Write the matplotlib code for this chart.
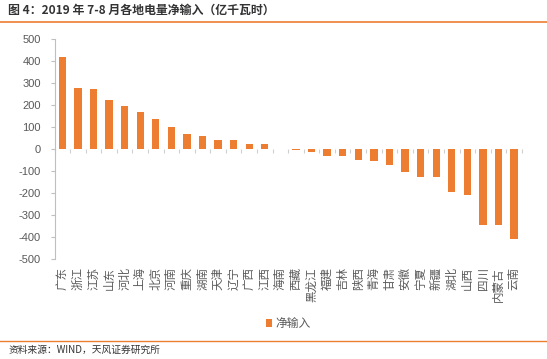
import matplotlib
matplotlib.use('Agg')
import matplotlib.pyplot as plt
import numpy as np

plt.rcParams['font.family'] = ['Noto Sans CJK SC', 'DejaVu Sans']
plt.rcParams['axes.unicode_minus'] = False

provinces = ['广东', '浙江', '江苏', '山东', '河北', '上海', '北京', '河南', '重庆', '湖南',
             '天津', '辽宁', '广西', '江西', '海南', '西藏', '黑龙江', '福建', '吉林', '陕西',
             '青海', '甘肃', '安徽', '宁夏', '新疆', '湖北', '山西', '四川', '内蒙古', '云南']
net_input = [421, 279, 274, 224, 197, 170, 138, 101, 70, 60,
             42, 42, 24, 24, 3, -3, -10, -30, -30, -48,
             -53, -71, -103, -126, -126, -194, -208, -344, -344, -408]
yticks = list(range(-500, 501, 100))

orange = '#ED7D31'
gray = '#595959'

fig = plt.figure(figsize=(5.47, 3.59), dpi=100)
ax = fig.add_axes([0.0997, 0.2777, 0.8543, 0.6128])

x = np.arange(len(provinces))
ax.bar(x, net_input, width=0.47, color=orange, label='净输入', zorder=3)

ax.set_xlim(-0.5, len(provinces) - 0.5)
ax.set_ylim(-500, 500)
ax.set_yticks(yticks)
ax.set_yticklabels([str(v) for v in yticks], family=['Liberation Sans', 'DejaVu Sans'],
                   fontsize=8, color=gray)
ax.tick_params(axis='y', length=3, width=0.8, color='#bfbfbf', pad=7)

# x axis sits at zero with ticks between categories
ax.spines['bottom'].set_position(('data', 0))
ax.spines['bottom'].set_color('none')
ax.set_xticks(np.arange(len(provinces) + 1) - 0.5)
ax.set_xticklabels([])
ax.tick_params(axis='x', length=3, width=0.8, color='#d0d0d0')
for s in ['top', 'right']:
    ax.spines[s].set_visible(False)
ax.spines['left'].set_color('#bfbfbf')
ax.spines['left'].set_linewidth(0.8)

for i, name in enumerate(provinces):
    ax.text(i, -0.035, name, transform=ax.get_xaxis_transform(), rotation=90,
            ha='center', va='top', fontsize=8.3, color=gray)

ax.legend(loc='upper center', bbox_to_anchor=(0.5, -0.215), frameon=False,
          fontsize=8.5, labelcolor=gray, handlelength=0.55, handleheight=0.55,
          handletextpad=0.3)

fig.text(0.015, 0.972, '图 4：2019 年 7-8 月各地电量净输入（亿千瓦时）', fontsize=8.6,
         fontweight='bold', color='#333333', ha='left', va='center')
fig.add_artist(plt.Line2D([0, 1], [1 - 22 / 359, 1 - 22 / 359], color=orange, lw=1.2))
fig.add_artist(plt.Line2D([0, 1], [1 - 340.5 / 359, 1 - 340.5 / 359], color=orange, lw=1.0))
fig.text(0.015, 1 - 349.5 / 359, '资料来源：WIND，天风证券研究所', fontsize=7,
         color='#333333', ha='left', va='center')

fig.savefig('out.png', dpi=100)
